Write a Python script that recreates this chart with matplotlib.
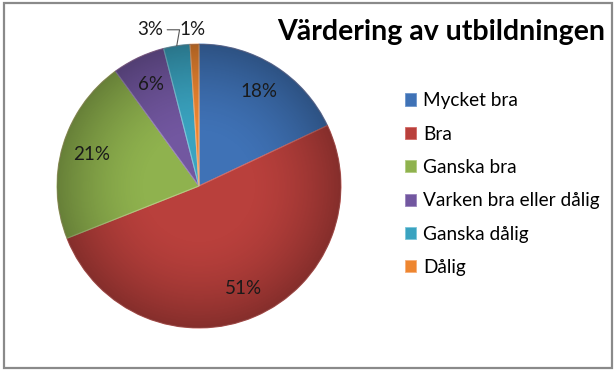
#!/usr/bin/env python3
"""Pie chart: Värdering av utbildningen."""

import numpy as np
import matplotlib

matplotlib.use("Agg")
import matplotlib.pyplot as plt
from matplotlib.patches import Patch, Rectangle, Circle

plt.rcParams["font.family"] = ["Lato", "DejaVu Sans"]

categories = ["Mycket bra", "Bra", "Ganska bra", "Varken bra eller dålig",
              "Ganska dålig", "Dålig"]
values = [18, 51, 21, 6, 3, 1]
colors = ["#3f72b6", "#b9403c", "#8fb24e", "#7257a0", "#3aa3c0", "#ee8630"]
edge_colors = ["#6d96cc", "#d26a66", "#b2cc80", "#9a84bd", "#7cc6da", "#f6b07a"]

fig = plt.figure(figsize=(6.16, 3.71), dpi=100)
fig.patches.append(Rectangle((0.006, 0.008), 0.988, 0.984, transform=fig.transFigure,
                             fill=False, edgecolor="#8a8a8a", lw=1.6))

ax = fig.add_axes([0.0925, 0.1159, 0.461, 0.7655])
wedges, _ = ax.pie(values, colors=colors, startangle=90, counterclock=False,
                   radius=1.0, wedgeprops={"linewidth": 0.8})
for w, ec in zip(wedges, edge_colors):
    w.set_edgecolor(ec)

# radial shading like the office gradient
n = 300
yy, xx = np.mgrid[-1:1:n * 1j, -1:1:n * 1j]
rr = np.sqrt(xx ** 2 + yy ** 2)
shade = np.zeros((n, n, 4))
shade[..., 3] = np.clip((rr - 0.35) / 0.65, 0, 1) ** 1.6 * 0.28
im = ax.imshow(shade, extent=(-1, 1, -1, 1), origin="lower", zorder=3)
im.set_clip_path(Circle((0, 0), 1.0, transform=ax.transData))
ax.add_patch(Circle((0, 0), 1.0, fill=False, edgecolor="#5a2020", lw=0.6,
                    alpha=0.35, zorder=4))

for w, v in zip(wedges, values):
    mid_deg = (w.theta1 + w.theta2) / 2
    mid = np.deg2rad(mid_deg)
    label = f"{v}%"
    if v >= 5:
        r = 0.79
        ax.text(r * np.cos(mid), r * np.sin(mid), label, ha="center", va="center",
                fontsize=13.5, color="#1a1a1a", zorder=5)
    elif v >= 2:
        a = np.deg2rad(mid_deg + 8.4)
        tx, ty = 1.153 * np.cos(a), 1.153 * np.sin(a)
        ax.annotate(label, xy=(np.cos(mid), np.sin(mid)), xytext=(tx, ty),
                    ha="center", va="center", fontsize=13.5, color="#1a1a1a",
                    arrowprops={"arrowstyle": "-", "color": "#555555", "lw": 0.8,
                                "shrinkA": 1, "shrinkB": 0, "relpos": (1.0, 0.5),
                                "connectionstyle": "angle,angleA=0,angleB=80,rad=0"},
                    zorder=5, annotation_clip=False)
    else:
        a = np.deg2rad(mid_deg + 0.4)
        ax.text(1.101 * np.cos(a), 1.101 * np.sin(a), label, ha="center",
                va="center", fontsize=13.5, color="#1a1a1a", zorder=5)

ax.set_xlim(-1, 1)
ax.set_ylim(-1, 1)
ax.set_aspect("equal")
ax.axis("off")

fig.text(0.716, 0.892, "Värdering av utbildningen", ha="center", va="baseline",
         fontsize=20.5, fontweight="bold", color="black")

handles = [Patch(facecolor=c, edgecolor=ec, lw=0.6) for c, ec in zip(colors, edge_colors)]
fig.legend(handles, categories, loc="upper left", bbox_to_anchor=(0.645, 0.772),
           frameon=False, fontsize=13.7, handlelength=0.6, handleheight=0.6,
           handletextpad=0.35, labelspacing=0.86, borderaxespad=0)

fig.savefig("out.png", dpi=100)
